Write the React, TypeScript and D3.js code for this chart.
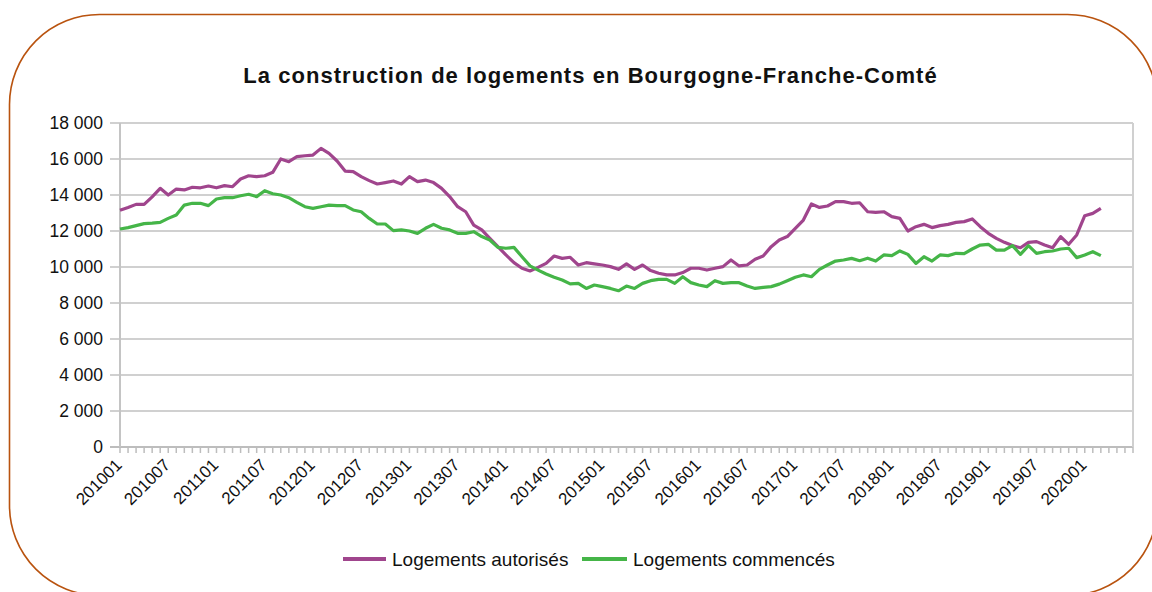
import React from "react";
import * as d3 from "d3";

const months: string[] = [];
for (let y = 2010; y <= 2020; y++) {
  for (let m = 1; m <= 12; m++) {
    if (y === 2020 && m > 6) break;
    months.push(`${y}${m < 10 ? "0" + m : m}`);
  }
}

const autorises = [
  13150, 13300, 13480, 13480, 13900, 14370, 14000, 14330, 14280, 14430, 14400, 14500,
  14400, 14520, 14460, 14890, 15070, 15020, 15070, 15260, 16000, 15850, 16130, 16180,
  16220, 16590, 16310, 15890, 15330, 15300, 15020, 14800, 14610, 14690, 14780, 14610,
  15020, 14740, 14830, 14690, 14370, 13910, 13350, 13070, 12330, 12060, 11590, 11130,
  10670, 10240, 9930, 9780, 9980, 10200, 10610, 10480, 10540, 10110, 10240, 10170,
  10110, 10020, 9870, 10170, 9870, 10110, 9800, 9650, 9560, 9560, 9690, 9930,
  9930, 9830, 9930, 10020, 10390, 10060, 10110, 10430, 10610, 11130, 11500, 11690,
  12150, 12610, 13500, 13310, 13390, 13630, 13630, 13540, 13570, 13070, 13040, 13070,
  12800, 12700, 12000, 12240, 12370, 12190, 12300, 12370, 12480, 12520, 12670, 12240,
  11870, 11590, 11370, 11190, 11070, 11370, 11410, 11220, 11070, 11690, 11260, 11780,
  12850, 12980, 13260,
];

const commences = [
  12110, 12190, 12300, 12410, 12440, 12480, 12700, 12890, 13440, 13540, 13540, 13410,
  13780, 13850, 13850, 13960, 14040, 13910, 14240, 14070, 14000, 13850, 13590, 13350,
  13260, 13350, 13440, 13410, 13410, 13170, 13070, 12700, 12390, 12390, 12020, 12060,
  12000, 11870, 12150, 12370, 12150, 12060, 11870, 11870, 11960, 11690, 11500, 11090,
  11040, 11090, 10570, 10060, 9830, 9610, 9430, 9280, 9060, 9090, 8810, 9000,
  8910, 8810, 8680, 8940, 8810, 9090, 9240, 9310, 9310, 9090, 9460, 9130,
  9000, 8910, 9240, 9090, 9130, 9130, 8940, 8810, 8870, 8910, 9050, 9240,
  9430, 9560, 9460, 9870, 10110, 10330, 10390, 10480, 10350, 10490, 10330, 10670,
  10630, 10890, 10700, 10200, 10570, 10330, 10670, 10630, 10760, 10740, 11000, 11220,
  11260, 10940, 10940, 11190, 10700, 11190, 10760, 10850, 10890, 11000, 11040, 10520,
  10670, 10850, 10630,
];

const yTicks = [0, 2000, 4000, 6000, 8000, 10000, 12000, 14000, 16000, 18000];

const seriesNames = ["Logements autorisés", "Logements commencés"];
const colors = ["#a0458d", "#45b548"];
const title = "La construction de logements en Bourgogne-Franche-Comté";

const fmt = (v: number) => (v === 0 ? "0" : d3.format(",")(v).replace(/,/g, " "));

export default function App() {
  const W = 1152, H = 592;
  const left = 120, right = 1133, top = 123, bottom = 447;
  const n = months.length; // 126 categories, axis runs to one step beyond the last
  const x = d3.scaleLinear().domain([0, n]).range([left, right]);
  const y = d3.scaleLinear().domain([0, 18000]).range([bottom, top]);
  const line = d3
    .line<number>()
    .x((_, i) => x(i))
    .y((d) => y(d));
  const tickIdx = d3.range(0, n + 1);
  const font = "Arial, 'Liberation Sans', sans-serif";
  return (
    <svg
      width={W}
      height={H}
      style={{ position: "absolute", left: 0, top: 0, background: "#fff" }}
      fontFamily={font}
    >
      <rect x={0} y={0} width={W} height={H} fill="#fff" />
      <rect
        x={9.5}
        y={14.5}
        width={1148}
        height={581}
        rx={90}
        ry={90}
        fill="#fff"
        stroke="#b9530f"
        strokeWidth={1.6}
      />
      <text
        x={590.5}
        y={83}
        textAnchor="middle"
        fontSize={22}
        fontWeight="bold"
        letterSpacing={1.05}
        fill="#111"
      >
        {title}
      </text>
      {yTicks.map((t) => (
        <g key={t}>
          <line
            x1={110}
            x2={right}
            y1={y(t)}
            y2={y(t)}
            stroke={t === 0 ? "#bdbdbd" : "#d0d0d0"}
            strokeWidth={2}
          />
          <text
            x={103}
            y={y(t)}
            dy="0.36em"
            textAnchor="end"
            fontSize={17.5}
            fill="#111"
          >
            {fmt(t)}
          </text>
        </g>
      ))}
      <line x1={left} x2={left} y1={top} y2={bottom} stroke="#c4c4c4" strokeWidth={2} />
      <line x1={right} x2={right} y1={top} y2={bottom} stroke="#d0d0d0" strokeWidth={2} />
      {tickIdx.map((i) => (
        <line
          key={"t" + i}
          x1={x(i)}
          x2={x(i)}
          y1={bottom}
          y2={bottom + 6}
          stroke="#bdbdbd"
          strokeWidth={1.5}
        />
      ))}
      {months.map((m, i) =>
        i % 6 === 0 ? (
          <text
            key={"l" + m}
            transform={`translate(${x(i) + 3},${bottom + 19}) rotate(-45)`}
            textAnchor="end"
            fontSize={17}
            fill="#111"
          >
            {m}
          </text>
        ) : null
      )}
      {[autorises, commences].map((s, k) => (
        <path
          key={k}
          d={line(s) || ""}
          fill="none"
          stroke={colors[k]}
          strokeWidth={3.2}
          strokeLinejoin="round"
        />
      ))}
      <g>
        <line x1={343} x2={386} y1={559} y2={559} stroke={colors[0]} strokeWidth={4} />
        <text x={392} y={566} fontSize={19} fill="#111">
          {seriesNames[0]}
        </text>
        <line x1={582} x2={627} y1={559} y2={559} stroke={colors[1]} strokeWidth={4} />
        <text x={633} y={566} fontSize={19} fill="#111">
          {seriesNames[1]}
        </text>
      </g>
    </svg>
  );
}
